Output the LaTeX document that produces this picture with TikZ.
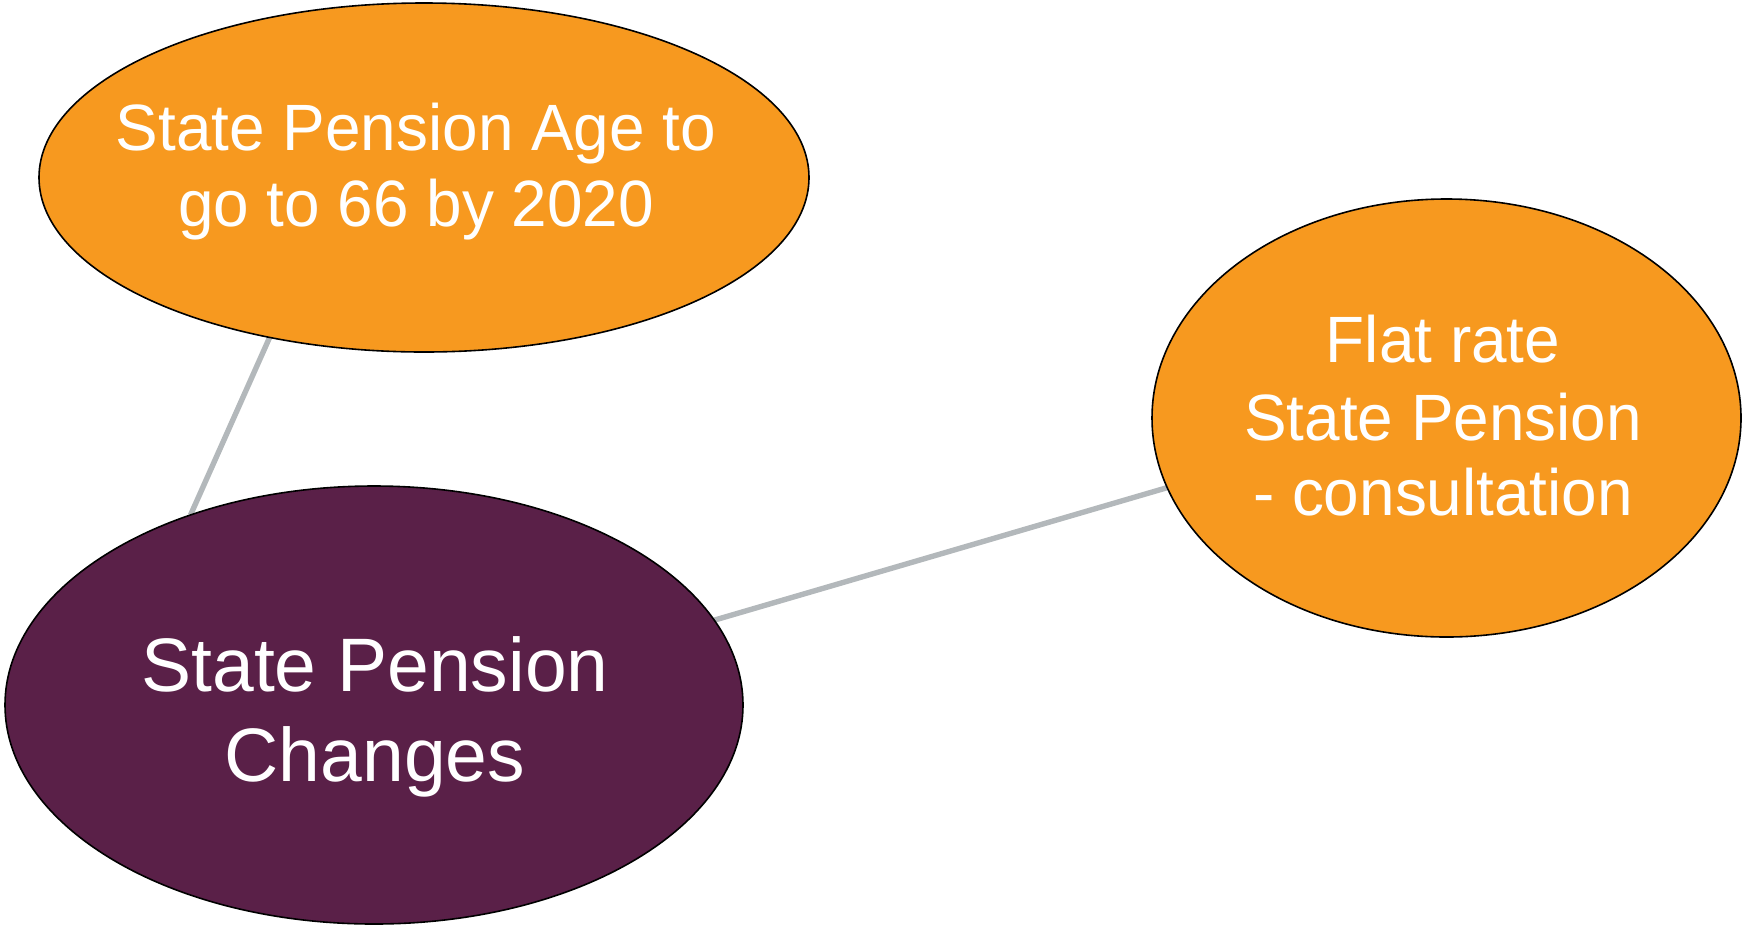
\documentclass[tikz,border=0pt]{standalone}
\usepackage{fontspec}
\setmainfont{Liberation Sans}
\newfontfamily\smallfam{Liberation Sans}[FakeStretch=0.975]
\newfontfamily\bigfam{Liberation Sans}[FakeStretch=0.99]
\usetikzlibrary{shapes.geometric,backgrounds}
\definecolor{pOrange}{HTML}{F7991F}
\definecolor{pPurple}{HTML}{5A2048}
\definecolor{pGray}{HTML}{B3B8BB}
\tikzset{
  bubble/.style={ellipse, draw=black, line width=0.8pt, inner sep=0pt, outer sep=0pt},
  orangebubble/.style={bubble, fill=pOrange},
  purplebubble/.style={bubble, fill=pPurple},
  smalltxt/.style={anchor=base, inner sep=0pt, text=white, font=\smallfam\fontsize{32.75pt}{38pt}\selectfont},
  bigtxt/.style={anchor=base, inner sep=0pt, text=white, font=\bigfam\fontsize{37.9pt}{45pt}\selectfont},
  link/.style={draw=pGray, line width=2.7pt}
}
\begin{document}
\begin{tikzpicture}[x=0.5pt,y=-0.5pt]
\useasboundingbox (0,0) rectangle (1744,927);
% ellipses (sizes in pt = half of pixel size)
\node[orangebubble, minimum width=385pt, minimum height=174.5pt] (age) at (424,177.5) {};
\node[orangebubble, minimum width=294.5pt, minimum height=219pt] (flat) at (1446.5,418) {};
\node[purplebubble, minimum width=369pt, minimum height=219pt] (changes) at (374,705) {};
% connectors
\begin{scope}[on background layer]
\draw[link] (age.226.5) -- (changes.134.5);
\draw[link] (changes.14.8) -- (flat.194.8);
\end{scope}
% texts
\node[smalltxt] (age1) at (416,150.7) {State Pension Age to};
\node[smalltxt] (age2) at (416,226.7) {go to 66 by 2020};
\node[smalltxt] (flat1) at (1443,362.7) {Flat rate};
\node[smalltxt] (flat2) at (1443,440) {State Pension};
\node[smalltxt] (flat3) at (1443,515.7) {- consultation};
\node[bigtxt] (ch1) at (375,691) {State Pension};
\node[bigtxt] (ch2) at (375,781.7) {Changes};
\end{tikzpicture}
\end{document}
